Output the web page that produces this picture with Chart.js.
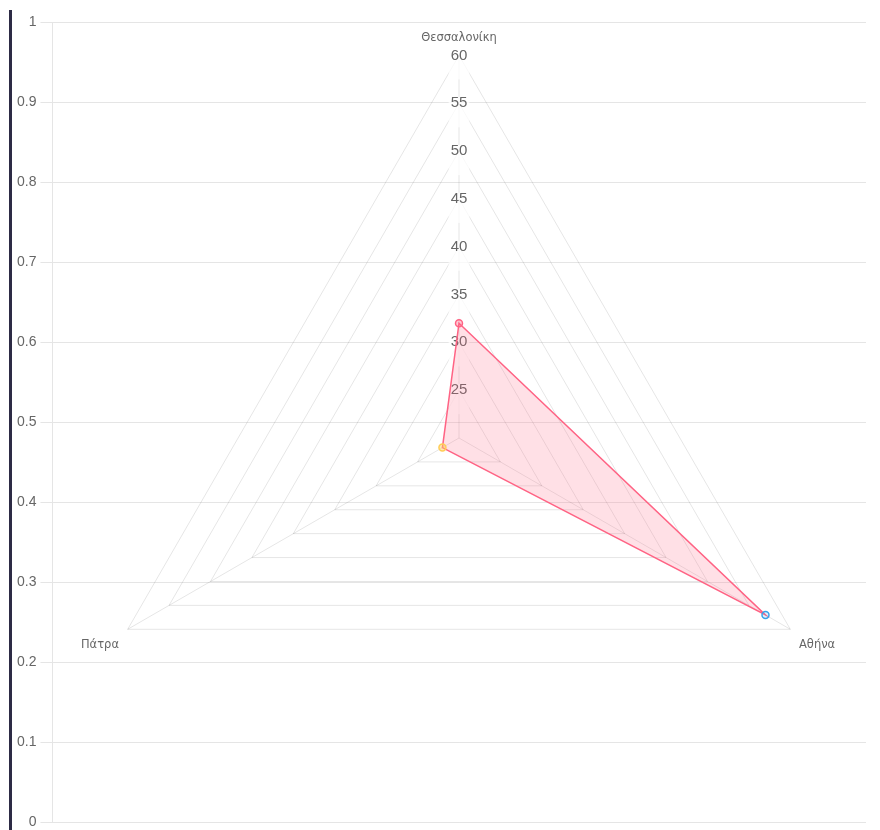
<!DOCTYPE html>
<html>
<head>
<meta charset="utf-8">
<script src="https://cdn.jsdelivr.net/npm/chart.js@4"></script>
<style>
  html, body { margin: 0; padding: 0; background: #fff; overflow: hidden; }
  .wrap {
    position: absolute; left: 9px; top: 10px;
    width: 868px; height: 825px;
    border-left: 3px solid #2d2b45;
  }
  canvas { display: block; }
</style>
</head>
<body>
<div class="wrap"><canvas id="chart"></canvas></div>
<script>
// Cities and their values on the radial scale
const cities = ['Θεσσαλονίκη', 'Αθήνα', 'Πάτρα'];
const values = [32, 57, 22];
const pointColors = ['rgb(255, 99, 132)', 'rgb(54, 162, 235)', 'rgb(255, 205, 86)'];
const pointFills = ['rgba(255, 99, 132, 0.35)', 'rgba(54, 162, 235, 0.15)', 'rgba(255, 205, 86, 0.45)'];
const radialMin = 20;
const radialMax = 60;
const radialStep = 5;

new Chart(document.getElementById('chart'), {
  type: 'radar',
  data: {
    labels: cities,
    datasets: [{
      label: 'Πληθυσμός',
      data: values,
      borderColor: 'rgb(255, 99, 132)',
      backgroundColor: 'rgba(255, 99, 132, 0.2)',
      borderWidth: 1.5,
      pointBackgroundColor: pointFills,
      pointBorderColor: pointColors,
      pointBorderWidth: 1.5,
      pointRadius: 3.5
    }]
  },
  options: {
    responsive: true,
    maintainAspectRatio: false,
    animation: false,
    plugins: { legend: { display: false }, tooltip: { enabled: false } },
    layout: { padding: { left: 1, right: 14, top: 1, bottom: 2 } },
    scales: {
      r: {
        min: radialMin,
        max: radialMax,
        ticks: {
          stepSize: radialStep,
          font: { size: 15 },
          color: '#666',
          // negative vertical padding keeps the web large inside the plot area
          backdropPadding: { top: -31.5, bottom: -13.5, left: 2, right: 2 }
        },
        pointLabels: {
          font: ctx => ({
            family: "'DejaVu Sans', sans-serif",
            size: 11.5,
            lineHeight: ctx.index === 0 ? 0 : 1.8
          }),
          color: '#666',
          padding: ctx => (ctx.index === 0 ? 32 : 25)
        },
        grid: { color: 'rgba(0,0,0,0.1)' },
        angleLines: { color: 'rgba(0,0,0,0.1)' }
      },
      y: {
        type: 'linear',
        position: 'left',
        min: 0,
        max: 1,
        ticks: {
          stepSize: 0.1,
          padding: 4,
          font: { size: 14 },
          color: '#666',
          callback: v => String(Math.round(v * 10) / 10)
        },
        grid: { color: 'rgba(0,0,0,0.1)', tickLength: 12 }
      }
    }
  }
});
</script>
</body>
</html>
